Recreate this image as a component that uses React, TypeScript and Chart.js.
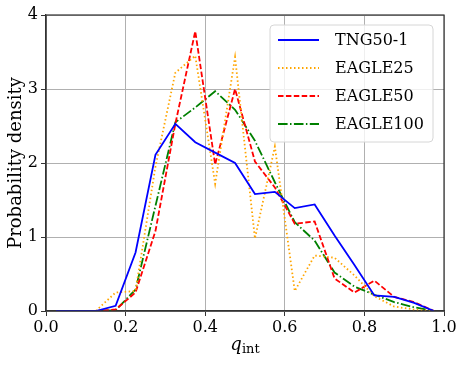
import React, { useEffect, useRef } from "react";
import { Chart, registerables } from "chart.js";

Chart.register(...registerables);

const binCenters = [0.025, 0.075, 0.125, 0.175, 0.225, 0.275, 0.325, 0.375, 0.425, 0.475, 0.525, 0.575, 0.625, 0.675, 0.725, 0.775, 0.825, 0.875, 0.925, 0.975];
const tng50 = [0, 0, 0, 0.07, 0.79, 2.11, 2.53, 2.28, 2.14, 2.0, 1.58, 1.61, 1.39, 1.44, 1.02, 0.62, 0.21, 0.19, 0.11, 0];
const eagle25 = [0, 0, 0, 0.25, 0.27, 1.95, 3.22, 3.45, 1.72, 3.43, 0.98, 2.22, 0.27, 0.75, 0.72, 0.48, 0.2, 0.06, 0.02, 0];
const eagle50 = [0, 0, 0, 0.02, 0.25, 1.08, 2.53, 3.78, 1.98, 3.0, 2.02, 1.67, 1.18, 1.21, 0.44, 0.25, 0.41, 0.19, 0.12, 0];
const eagle100 = [0, 0, 0, 0.01, 0.29, 1.42, 2.55, 2.75, 2.97, 2.72, 2.3, 1.74, 1.2, 0.95, 0.52, 0.33, 0.22, 0.12, 0.05, 0];

const seriesNames = ["TNG50-1", "EAGLE25", "EAGLE50", "EAGLE100"];
const seriesValues = [tng50, eagle25, eagle50, eagle100];
const seriesColors = ["#0000ff", "#ffa500", "#ff0000", "#008000"];
const seriesDashes: number[][] = [[], [1.5, 2.5], [5.5, 2.4], [9.6, 2.4, 1.5, 2.4]];

const xTitleMain = "q";
const xTitleSub = "int";
const yTitle = "Probability density";

const FONT = "'DejaVu Serif', serif";

const decorPlugin = {
  id: "decor",
  afterDraw(chart: any) {
    const { ctx, chartArea } = chart;
    const { left, right, top, bottom } = chartArea;
    ctx.save();
    // frame
    ctx.strokeStyle = "#333";
    ctx.lineWidth = 1.2;
    ctx.setLineDash([]);
    ctx.strokeRect(left, top, right - left, bottom - top);

    // legend
    const bx = 270, by = 25, bw = 163, bh = 117, r = 4;
    ctx.beginPath();
    ctx.moveTo(bx + r, by);
    ctx.lineTo(bx + bw - r, by);
    ctx.arcTo(bx + bw, by, bx + bw, by + r, r);
    ctx.lineTo(bx + bw, by + bh - r);
    ctx.arcTo(bx + bw, by + bh, bx + bw - r, by + bh, r);
    ctx.lineTo(bx + r, by + bh);
    ctx.arcTo(bx, by + bh, bx, by + bh - r, r);
    ctx.lineTo(bx, by + r);
    ctx.arcTo(bx, by, bx + r, by, r);
    ctx.closePath();
    ctx.fillStyle = "rgba(255,255,255,0.8)";
    ctx.fill();
    ctx.strokeStyle = "#d6d6d6";
    ctx.lineWidth = 1;
    ctx.stroke();

    const rows = [40, 68, 96, 124];
    seriesNames.forEach((name, i) => {
      const y = rows[i];
      ctx.beginPath();
      ctx.strokeStyle = seriesColors[i];
      ctx.lineWidth = 1.8;
      ctx.setLineDash(seriesDashes[i]);
      ctx.moveTo(278, y);
      ctx.lineTo(319, y);
      ctx.stroke();
      ctx.setLineDash([]);
      ctx.fillStyle = "#000";
      ctx.font = `16px ${FONT}`;
      ctx.textAlign = "left";
      ctx.textBaseline = "middle";
      ctx.fillText(name, 335, y + 1);
    });

    // x title
    ctx.fillStyle = "#000";
    ctx.textBaseline = "alphabetic";
    ctx.font = `italic 18px ${FONT}`;
    const wq = ctx.measureText(xTitleMain).width;
    ctx.font = `13px ${FONT}`;
    const ws = ctx.measureText(xTitleSub).width;
    const cx = (left + right) / 2;
    const sx = cx - (wq + ws) / 2;
    ctx.font = `italic 18px ${FONT}`;
    ctx.textAlign = "left";
    ctx.fillText(xTitleMain, sx, 350);
    ctx.font = `13px ${FONT}`;
    ctx.fillText(xTitleSub, sx + wq, 353);

    // y title
    ctx.translate(16, (top + bottom) / 2);
    ctx.rotate(-Math.PI / 2);
    ctx.font = `18px ${FONT}`;
    ctx.textAlign = "center";
    ctx.textBaseline = "middle";
    ctx.fillText(yTitle, 0, 0);
    ctx.restore();
  },
};

export default function App() {
  const ref = useRef<HTMLCanvasElement>(null);
  useEffect(() => {
    if (!ref.current) return;
    const chart = new Chart(ref.current, {
      type: "line",
      data: {
        datasets: seriesNames.map((name, i) => ({
          label: name,
          data: binCenters.map((x, j) => ({ x, y: seriesValues[i][j] })),
          borderColor: seriesColors[i],
          borderDash: seriesDashes[i],
          borderWidth: 1.8,
          pointRadius: 0,
          fill: false,
          tension: 0,
        })),
      },
      options: {
        animation: false,
        responsive: false,
        maintainAspectRatio: false,
        layout: { padding: { top: 15, right: 20, left: 0, bottom: 0 } },
        plugins: { legend: { display: false }, tooltip: { enabled: false } },
        scales: {
          x: {
            type: "linear",
            min: 0,
            max: 1,
            afterFit: (s: any) => { s.height = 55; },
            ticks: {
              stepSize: 0.2,
              color: "#000",
              font: { family: FONT, size: 16 },
              padding: 2,
              maxRotation: 0,
              callback: (v: any) => Number(v).toFixed(1),
            },
            grid: { color: "#b0b0b0", tickColor: "#333", tickLength: 5, lineWidth: 1 },
            border: { color: "#333", width: 1.2 },
          },
          y: {
            min: 0,
            max: 4,
            afterFit: (s: any) => { s.width = 46; },
            ticks: {
              stepSize: 1,
              color: "#000",
              font: { family: FONT, size: 16 },
              padding: 3,
              callback: (v: any) => String(v),
            },
            grid: { color: "#b0b0b0", tickColor: "#333", tickLength: 5, lineWidth: 1 },
            border: { color: "#333", width: 1.2 },
          },
        },
      },
      plugins: [decorPlugin],
    });
    return () => chart.destroy();
  }, []);
  return (
    <div style={{ position: "absolute", left: 0, top: 0, width: 464, height: 366, background: "#fff" }}>
      <canvas ref={ref} width={464} height={366} style={{ display: "block" }} />
    </div>
  );
}
